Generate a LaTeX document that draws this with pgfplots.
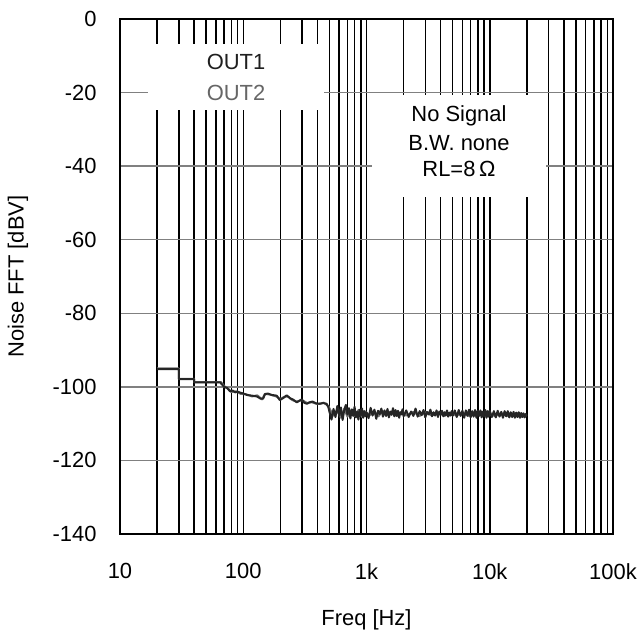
\documentclass[border=0pt]{standalone}
\usepackage{pgfplots}
\pgfplotsset{compat=1.18}
\usetikzlibrary{calc}
\usepackage{fontspec}
\setmainfont{Liberation Sans}
\begin{document}
\begin{tikzpicture}[font=\fontsize{22}{26}\selectfont]
\begin{axis}[name=ax,
 scale only axis, width=493bp, height=515bp,
 xmode=log, xmin=10, xmax=100000, ymin=-140, ymax=0,
 xtick={10,100,1000,10000,100000}, xticklabels={10,100,1k,10k,100k},
 ytick={-140,-120,-100,-80,-60,-40,-20,0},
 yticklabels={-140,-120,-100,-80,-60,-40,-20,0},
 xmajorgrids, xminorgrids, ymajorgrids,
 major x grid style={black, line width=1.5bp},
 minor x grid style={black, line width=1.5bp},
 major y grid style={black!50, line width=1.5bp},
 major tick length=0pt, minor tick length=0pt,
 axis line style={black, line width=2bp},
 xticklabel shift=26bp, yticklabel shift=20bp,
 xlabel={Freq [Hz]}, ylabel={Noise FFT [dBV]},
 xlabel style={at={(axis description cs:0.5,-0.167)}, anchor=center},
 ylabel style={at={(axis description cs:-0.207,0.5)}, anchor=center},
 clip=false,
]
% OUT2 (gray, underneath)
\addplot[black!55, line width=2bp, line join=round] coordinates {
(20,-95.0) (30,-95.0) (30,-97.8) (40,-97.8) (40,-98.7) (66,-98.7) (70,-99.8) (76,-100.6) (80,-101.4) (88,-101.2) (95,-101.9) (105,-102.0) (118,-102.6) (130,-102.3) (142,-103.4) (150,-101.9) (165,-102.1) (185,-102.6) (200,-103.3) (215,-102.7) (230,-102.6) (250,-103.6) (270,-104.0) (300,-103.6) (330,-104.4) (360,-104.2) (400,-104.7) (450,-104.3) (490,-105.2) (510,-106.4)
(540,-107.8) (580,-106.2) (620,-108.4) (660,-105.9) (700,-108.1) (750,-106.4) (800,-107.9) (860,-106.3) (920,-108.2) (980,-106.7) (1050,-107.9) (1150,-106.5) (1250,-108.0) (1350,-106.6) (1450,-107.8) (1600,-106.7) (1750,-107.9) (1900,-106.9) (2100,-107.8) (2400,-106.8) (2700,-107.9) (3000,-106.9) (3400,-107.8) (3800,-107.0) (4300,-107.9) (4800,-107.1) (5400,-107.8) (6000,-107.0) (6800,-107.9) (7600,-107.1) (8600,-107.8) (9600,-107.2) (11000,-107.9) (12500,-107.2) (14000,-107.9) (16000,-107.3) (18000,-108.0) (20000,-107.7)
};
% OUT1 (black)
\addplot[black!85, line width=2bp, line join=round] coordinates {
(20,-95.2) (30,-95.2) (30,-97.9) (40,-97.9) (40,-98.8) (65,-98.8) (70,-100.0) (74,-100.3) (78,-101.2) (82,-101.0) (86,-101.5) (90,-101.3) (95,-101.6) (100,-101.8) (107,-102.2) (118,-102.4) (129,-102.6) (138,-103.2) (145,-103.2) (150,-102.0) (158,-101.8) (170,-102.2) (187,-102.4) (198,-103.6) (212,-103.0) (225,-102.3) (240,-103.1) (255,-103.5) (272,-104.2) (285,-103.8) (298,-103.4) (312,-104.3) (328,-104.6) (345,-104.2) (365,-104.0) (390,-104.5) (419,-104.6) (445,-104.4) (474,-104.6) (490,-105.5)
(500,-106.7) (520,-108.9) (540,-106.0) (560,-108.2) (580,-105.2) (600,-107.9) (620,-105.6) (640,-109.0) (660,-106.3) (680,-104.9) (700,-107.5) (720,-105.8) (740,-108.6) (760,-106.1) (780,-107.9) (800,-105.4) (820,-108.3) (840,-106.8) (860,-108.9) (880,-106.2) (900,-107.7) (920,-105.9) (940,-108.4) (960,-106.6) (980,-108.0) (1000,-106.9)
(1040,-108.5) (1080,-105.7) (1120,-107.8) (1160,-106.2) (1200,-108.7) (1240,-106.5) (1280,-107.4) (1320,-105.9) (1360,-108.1) (1400,-106.4) (1440,-107.9) (1480,-106.0) (1520,-108.3) (1560,-106.7) (1600,-107.6) (1640,-105.8) (1680,-108.0) (1720,-106.3) (1760,-107.9) (1800,-106.5) (1840,-108.4) (1880,-106.9) (1920,-107.5) (1960,-106.1) (2000,-108.0)
(2100,-106.4) (2200,-108.2) (2300,-106.7) (2400,-107.9) (2500,-105.9) (2600,-108.1) (2700,-106.6) (2800,-107.7) (2900,-106.3) (3000,-108.3) (3100,-106.8) (3200,-107.5) (3300,-106.2) (3400,-108.0) (3500,-106.9) (3600,-107.8) (3700,-106.4) (3800,-108.2) (3900,-106.7) (4000,-107.6) (4100,-106.5) (4200,-108.0) (4300,-106.9) (4400,-107.7) (4500,-106.4) (4600,-108.1) (4700,-107.0) (4800,-107.8) (4900,-106.6) (5000,-107.9)
(5200,-106.4) (5400,-108.2) (5600,-106.3) (5800,-107.9) (6000,-106.5) (6200,-108.4) (6400,-106.4) (6600,-107.9) (6800,-106.2) (7000,-108.3) (7200,-106.6) (7400,-108.1) (7600,-106.3) (7800,-108.4) (8000,-106.5) (8200,-107.9) (8400,-106.4) (8600,-108.3) (8800,-106.7) (9000,-108.0) (9200,-106.3) (9400,-108.4) (9600,-106.6) (9800,-108.1) (10000,-106.5)
(10400,-108.2) (10800,-106.6) (11200,-108.3) (11600,-106.5) (12000,-108.1) (12400,-106.8) (12800,-108.4) (13200,-106.6) (13600,-108.0) (14000,-106.6) (14400,-108.3) (14800,-106.9) (15200,-108.2) (15600,-106.8) (16000,-108.4) (16400,-107.0) (16800,-108.2) (17200,-106.9) (17600,-108.4) (18000,-107.1) (18400,-108.2) (18800,-107.2) (19200,-108.3) (19600,-107.4) (20000,-107.9)
};
% legend box
\node[fill=white, inner sep=0pt, minimum width=176bp, minimum height=66bp, anchor=north west] at (axis description cs:0.0568,0.9515) {};
\node[anchor=base, text=black!88] at (axis description cs:0.2353,0.901) {OUT1};
\node[anchor=base, text=black!60] at (axis description cs:0.2353,0.8427) {OUT2};
% condition box
\node[fill=white, inner sep=0pt, minimum width=174bp, minimum height=102bp, anchor=north west] at (axis description cs:0.5112,0.8524) {};
\node[anchor=base] at (axis description cs:0.6876,0.8019) {No Signal};
\node[anchor=base] at (axis description cs:0.6876,0.7456) {B.W. none};
\node[anchor=base] at (axis description cs:0.6876,0.6951) {RL=8\,Ω};
\end{axis}
\pgfresetboundingbox
\path ($(ax.south west)+(-120bp,-105bp)$) rectangle ($(ax.north east)+(31bp,19bp)$);
\end{tikzpicture}
\end{document}
